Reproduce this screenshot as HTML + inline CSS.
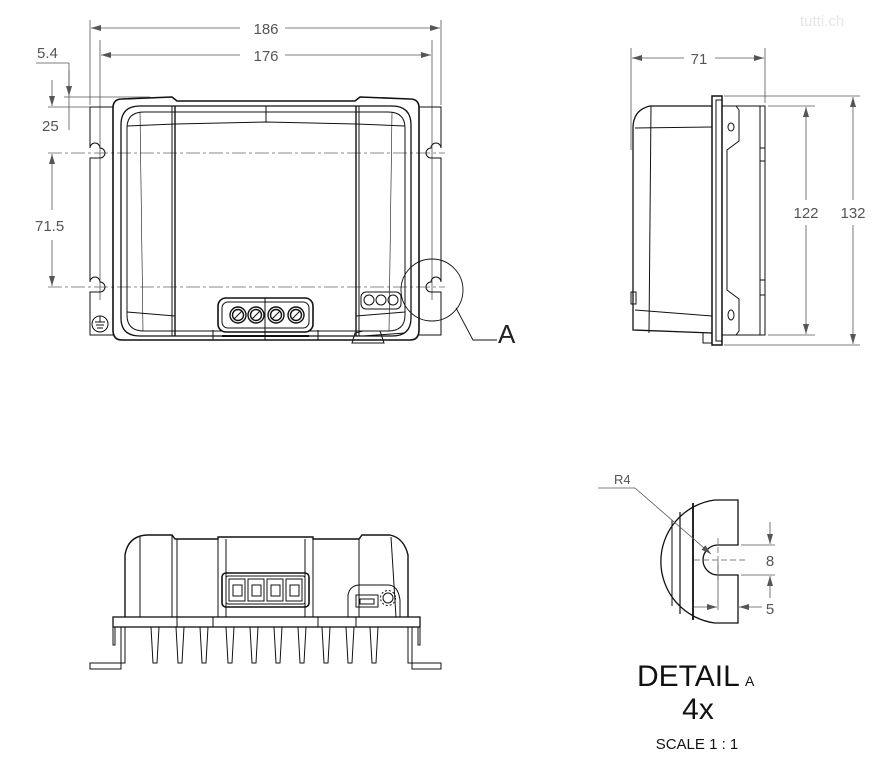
<!DOCTYPE html>
<html><head><meta charset="utf-8"><style>
html,body{margin:0;padding:0;background:#fff;}
svg{display:block;}
text{font-family:"Liberation Sans","DejaVu Sans",sans-serif;}
</style></head><body>
<svg width="879" height="768" viewBox="0 0 879 768" xmlns="http://www.w3.org/2000/svg">
<defs>
<marker id="ar" viewBox="0 0 10 6" refX="10" refY="3" markerWidth="10" markerHeight="6" orient="auto-start-reverse" markerUnits="userSpaceOnUse"><path d="M0,0 L10,3 L0,6 z" fill="#555"/></marker>
</defs>
<g fill="none" stroke="#111" stroke-width="1">
<!-- ===== FRONT VIEW ===== -->
<g stroke="#555" stroke-width="0.8">
<line x1="90" y1="20" x2="90" y2="105"/><line x1="441" y1="20" x2="441" y2="105"/>
<line x1="91" y1="28" x2="240" y2="28" marker-start="url(#ar)"/><line x1="285" y1="28" x2="440" y2="28" marker-end="url(#ar)"/>
<line x1="100" y1="40" x2="100" y2="300"/><line x1="432" y1="40" x2="432" y2="300"/>
<line x1="101" y1="55" x2="240" y2="55" marker-start="url(#ar)"/><line x1="285" y1="55" x2="431" y2="55" marker-end="url(#ar)"/>
<line x1="36" y1="63" x2="69" y2="63"/><line x1="69" y1="63" x2="69" y2="130"/>
<line x1="64" y1="97" x2="150" y2="97"/><line x1="48" y1="107" x2="90" y2="107"/>
<line x1="52" y1="80" x2="52" y2="106" marker-end="url(#ar)"/>
<line x1="69" y1="70" x2="69" y2="96" marker-end="url(#ar)"/>
<line x1="52" y1="154" x2="52" y2="210" marker-start="url(#ar)"/>
<line x1="52" y1="240" x2="52" y2="286" marker-end="url(#ar)"/>
</g>
<g stroke="#666" stroke-width="0.7" stroke-dasharray="14,3,3,3">
<line x1="48" y1="153" x2="445" y2="153"/><line x1="48" y1="287" x2="445" y2="287"/>
</g>
<path d="M113,107 L90,107 L90,148 A5,5 0 0 1 100,148 A5,5 0 0 1 100,158 L90,158 L90,282 A5,5 0 0 1 100,282 A5,5 0 0 1 100,292 L90,292 L90,335 L113,335"/>
<path d="M419,107 L441,107 L441,148 A5,5 0 0 0 431,148 A5,5 0 0 0 431,158 L441,158 L441,282 A5,5 0 0 0 431,282 A5,5 0 0 0 431,292 L441,292 L441,335 L419,335"/>
<path stroke-width="1.6" d="M122,99 L172,97 L177,101 L355,101 L360,97 L410,99 Q419,99 419,108 L419,330 Q419,340 410,340 L122,340 Q113,340 113,330 L113,108 Q113,99 122,99 Z"/>
<path stroke-width="1.3" d="M140,106 L392,106 Q411,106 411,125 L411,318 Q411,336 392,336 L140,336 Q121,336 121,318 L121,125 Q121,106 140,106 Z"/>
<path d="M144,112 L388,112 Q405,112 405,128 L405,315 Q405,331 388,331 L144,331 Q127,331 127,315 L127,128 Q127,112 144,112 Z"/>
<line x1="175" y1="106" x2="175" y2="336" stroke-width="1.4"/><line x1="172" y1="106" x2="172" y2="336"/>
<line x1="356" y1="106" x2="356" y2="336" stroke-width="1.4"/><line x1="359" y1="106" x2="359" y2="336"/>
<line x1="266" y1="106" x2="266" y2="122"/>
<path d="M127,126 L175,124 L266,122 L356,124 L405,126"/>
<path d="M127,312 L175,316"/><path d="M356,316 L405,312"/>
<line x1="140" y1="112" x2="143" y2="331" stroke-width="0.6"/><line x1="392" y1="112" x2="389" y2="331" stroke-width="0.6"/>
<path d="M213,330 L213,340 L318,340 L318,330"/>
<rect x="218" y="298" width="95" height="34" rx="8" stroke-width="1.6" fill="#fff"/>
<rect x="222" y="302" width="87" height="26" rx="6"/>
<line x1="265" y1="298" x2="265" y2="340"/>
<line x1="222" y1="336" x2="309" y2="336" stroke-width="2"/>
<g stroke-width="1.4">
<circle cx="238" cy="315" r="8"/><circle cx="256" cy="315" r="8"/><circle cx="276" cy="315" r="8"/><circle cx="296" cy="315" r="8"/>
<circle cx="238" cy="315" r="5.5"/><circle cx="256" cy="315" r="5.5"/><circle cx="276" cy="315" r="5.5"/><circle cx="296" cy="315" r="5.5"/>
</g>
<line x1="234" y1="319" x2="242" y2="311"/><line x1="252" y1="319" x2="260" y2="311"/><line x1="272" y1="319" x2="280" y2="311"/><line x1="292" y1="319" x2="300" y2="311"/>
<rect x="361" y="292" width="40" height="17" rx="5"/>
<circle cx="369" cy="300" r="5"/><circle cx="381" cy="300" r="5"/><circle cx="393" cy="300" r="5"/>
<path d="M352,343 L355,333 L363,331 L380,331 L384,343 Z"/>
<line x1="363" y1="336" x2="405" y2="333"/>
<circle cx="100" cy="324" r="8"/>
<line x1="100" y1="316" x2="100" y2="322"/><line x1="95" y1="322" x2="105" y2="322"/><line x1="96" y1="325" x2="104" y2="325"/><line x1="97" y1="328" x2="103" y2="328"/>
<circle cx="432" cy="290" r="31" stroke-width="0.9"/>
<polyline points="456,308 473,340 497,340" stroke-width="0.9"/>
<!-- ===== SIDE VIEW ===== -->
<g stroke="#555" stroke-width="0.8">
<line x1="631" y1="48" x2="631" y2="150"/><line x1="765" y1="48" x2="765" y2="103"/>
<line x1="632" y1="58" x2="684" y2="58" marker-start="url(#ar)"/><line x1="715" y1="58" x2="764" y2="58" marker-end="url(#ar)"/>
<line x1="724" y1="96" x2="860" y2="96"/><line x1="724" y1="345" x2="860" y2="345"/>
<line x1="768" y1="106" x2="815" y2="106"/><line x1="768" y1="335" x2="815" y2="335"/>
<line x1="806" y1="107" x2="806" y2="200" marker-start="url(#ar)"/><line x1="806" y1="225" x2="806" y2="334" marker-end="url(#ar)"/>
<line x1="853" y1="97" x2="853" y2="200" marker-start="url(#ar)"/><line x1="853" y1="225" x2="853" y2="344" marker-end="url(#ar)"/>
</g>
<path stroke-width="1.3" d="M712,106 L650,106 Q633,110 633,128 L633,330 L712,333"/>
<line x1="635" y1="128" x2="712" y2="127"/><line x1="651" y1="106" x2="649" y2="333"/>
<path d="M635,310 L712,316"/>
<rect x="631" y="292" width="5" height="12"/>
<path d="M703,333 L703,343 L712,343"/>
<rect x="712" y="96" width="10" height="249" stroke-width="1.5"/>
<rect x="716" y="100" width="6" height="241"/>
<path d="M722,106 L736,106 L739,110 L739,141 L727,150 L727,290 L739,299 L739,331 L736,335 L722,335"/>
<ellipse cx="731" cy="127" rx="3" ry="4"/><ellipse cx="731" cy="315" rx="3" ry="5"/>
<line x1="722" y1="106" x2="760" y2="106"/><line x1="722" y1="335" x2="760" y2="335"/>
<rect x="760" y="106" width="5" height="229"/>
<line x1="760" y1="148" x2="765" y2="148"/><line x1="760" y1="161" x2="765" y2="161"/>
<line x1="760" y1="280" x2="765" y2="280"/><line x1="760" y1="295" x2="765" y2="295"/>
<!-- ===== BOTTOM VIEW ===== -->
<path stroke-width="1.4" d="M125,617 L125,555 Q128,536 147,535 L172,535 L175,539 L218,539 L218,537 L313,537 L313,539 L359,539 L362,535 L390,535 Q404,538 408,555 L408,617"/>
<line x1="140" y1="537" x2="140" y2="617"/><line x1="172" y1="535" x2="172" y2="617"/><line x1="177" y1="539" x2="177" y2="617"/>
<line x1="218" y1="537" x2="218" y2="617"/><line x1="313" y1="537" x2="313" y2="617"/>
<line x1="305" y1="539" x2="305" y2="617"/><line x1="226" y1="539" x2="226" y2="617"/>
<line x1="359" y1="539" x2="359" y2="617"/><line x1="391" y1="537" x2="396" y2="617"/>
<rect x="222" y="573" width="87" height="34" rx="4" stroke-width="1.6"/>
<rect x="226" y="576" width="79" height="28" rx="2"/>
<rect x="229" y="579" width="16" height="22"/><rect x="248" y="579" width="16" height="22"/><rect x="267" y="579" width="16" height="22"/><rect x="286" y="579" width="16" height="22"/>
<rect x="233" y="585" width="9" height="11"/><rect x="252" y="585" width="9" height="11"/><rect x="271" y="585" width="9" height="11"/><rect x="290" y="585" width="9" height="11"/>
<path d="M348,617 L348,595 Q350,585 360,585 L388,585 Q398,585 400,600 L400,617"/>
<rect x="356" y="595" width="22" height="12"/><rect x="360" y="599" width="14" height="5"/>
<circle cx="388" cy="598" r="5"/><circle cx="388" cy="598" r="7.5" stroke-dasharray="2,2"/>
<rect x="113" y="617" width="307" height="10" stroke-width="1.3"/>
<line x1="177" y1="617" x2="177" y2="627"/><line x1="213" y1="617" x2="213" y2="627"/><line x1="318" y1="617" x2="318" y2="627"/><line x1="356" y1="617" x2="356" y2="627"/>
<path d="M125,627 L125,663 L90,663 L90,669 L121,669 L121,627"/>
<path d="M408,627 L408,663 L441,663 L441,669 L412,669 L412,627"/>
<path d="M113,627 L113,645 L115,645 L115,627"/><path d="M418,627 L418,645 L420,645 L420,627"/>
<g>
<path d="M151,627 L153,663 L157,663 L159,627"/>
<path d="M176,627 L178,663 L182,663 L184,627"/>
<path d="M200,627 L202,663 L206,663 L208,627"/>
<path d="M226,627 L228,663 L232,663 L234,627"/>
<path d="M250,627 L252,663 L256,663 L258,627"/>
<path d="M274,627 L276,663 L280,663 L282,627"/>
<path d="M298,627 L300,663 L304,663 L306,627"/>
<path d="M322,627 L324,663 L328,663 L330,627"/>
<path d="M346,627 L348,663 L352,663 L354,627"/>
<path d="M370,627 L372,663 L376,663 L378,627"/>
</g>
<!-- ===== DETAIL A ===== -->
<path stroke-width="1.3" d="M738,500 L715,500 A62,62 0 0 0 715,623 L738,623 L738,575 L718,575 A15,15 0 0 1 718,545 L738,545 Z"/>
<line x1="672" y1="520" x2="672" y2="606"/><line x1="680" y1="512" x2="680" y2="614" stroke-width="1.2"/><line x1="693" y1="503" x2="693" y2="620" stroke-width="1.8"/>
<g stroke="#555" stroke-width="0.8">
<line x1="598" y1="488" x2="635" y2="488"/><line x1="635" y1="488" x2="711" y2="554" marker-end="url(#ar)"/>
<line x1="741" y1="545" x2="775" y2="545"/><line x1="741" y1="575" x2="775" y2="575"/>
<line x1="770" y1="522" x2="770" y2="544" marker-end="url(#ar)"/><line x1="770" y1="598" x2="770" y2="576" marker-end="url(#ar)"/>
<line x1="718" y1="562" x2="718" y2="610"/>
<line x1="694" y1="607" x2="717" y2="607" marker-end="url(#ar)"/><line x1="762" y1="607" x2="739" y2="607" marker-end="url(#ar)"/>
</g>
<g stroke="#555" stroke-width="0.7" stroke-dasharray="6,3">
<line x1="694" y1="560" x2="745" y2="560"/><line x1="718" y1="538" x2="718" y2="580"/>
</g>
</g>
<!-- text -->
<g font-size="15" style="fill:#555">
<text x="266" y="34" text-anchor="middle">186</text>
<text x="266" y="61" text-anchor="middle">176</text>
<text x="37" y="58">5.4</text>
<text x="42" y="131">25</text>
<text x="35" y="231">71.5</text>
<text x="699" y="64" text-anchor="middle">71</text>
<text x="806" y="218" text-anchor="middle">122</text>
<text x="853" y="218" text-anchor="middle">132</text>
<text x="614" y="484" font-size="13">R4</text>
<text x="770" y="566" text-anchor="middle">8</text>
<text x="770" y="614" text-anchor="middle">5</text>
</g>
<text x="498" y="343" font-size="26" style="fill:#222">A</text>
<text x="637" y="686" font-size="30" style="fill:#111">DETAIL</text>
<text x="745" y="686" font-size="14" style="fill:#111">A</text>
<text x="698" y="719" font-size="30" style="fill:#111" text-anchor="middle">4x</text>
<text x="697" y="749" font-size="15" style="fill:#111" text-anchor="middle">SCALE  1 : 1</text>
<text x="800" y="26" font-size="15" style="fill:#e6e6e6">tutti.ch</text>
</svg>
</body></html>
